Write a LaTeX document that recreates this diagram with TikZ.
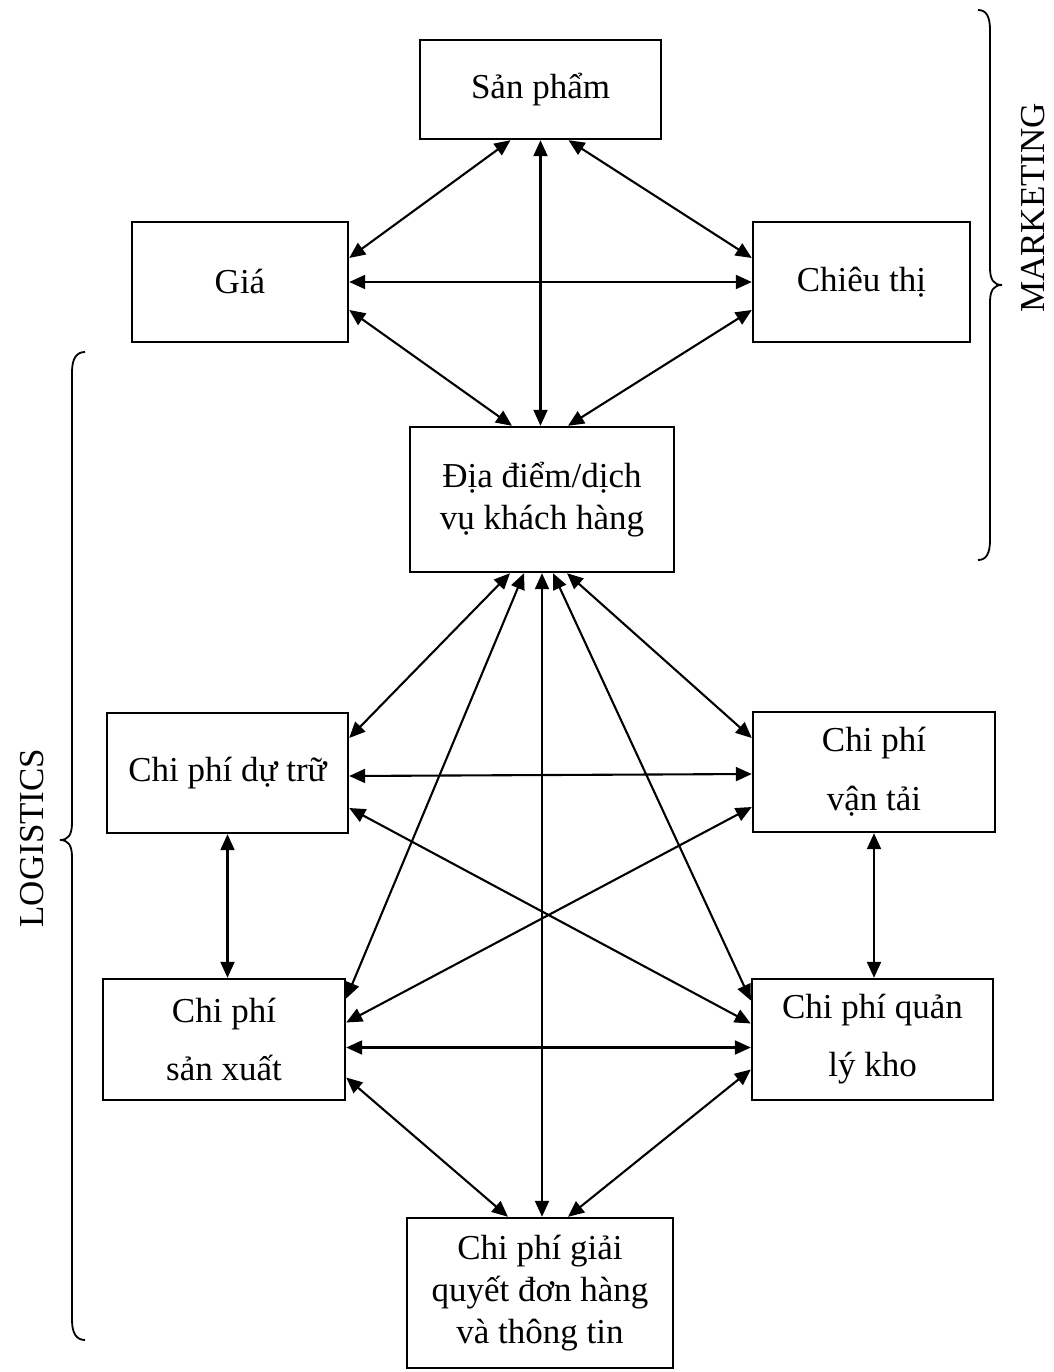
\documentclass[tikz,border=0pt]{standalone}
\usepackage{fontspec}
\setmainfont{Liberation Serif}
\usetikzlibrary{arrows.meta}
\begin{document}
\begin{tikzpicture}[x=1pt,y=-1pt,
  box/.style={draw, line width=2.4pt, inner sep=0pt, align=center,
    font=\fontsize{35}{42}\selectfont},
  link/.style={line width=2.1pt,
    {Triangle[length=16pt,width=14pt]}-{Triangle[length=16pt,width=14pt]}},
  bracepath/.style={line width=1.8pt},
  side/.style={font=\fontsize{35}{42}\selectfont, rotate=90, inner sep=0pt}]
\useasboundingbox (0,0) rectangle (1053,1372);

% marketing mix
\node[box, minimum width=241pt, minimum height=99pt]  (sp) at (540.5,89.5) {Sản phẩm};
\node[box, minimum width=216pt, minimum height=120pt] (gia) at (240,282) {Giá};
\node[box, minimum width=217pt, minimum height=120pt] (ct) at (861.5,282) {Chiêu thị};
\node[box, minimum width=264pt, minimum height=145pt] (dd) at (542,499.5) {Địa điểm/dịch\\vụ khách hàng};

% logistics costs
\node[box, minimum width=241pt, minimum height=120pt] (cpdt) at (227.5,773) {Chi phí dự trữ};
\node[box, minimum width=242pt, minimum height=120pt] (vt) at (874,772) {Chi phí\\[17pt]vận tải};
\node[box, minimum width=242pt, minimum height=121pt] (cpsx) at (224,1039.5) {Chi phí\\[16pt]sản xuất};
\node[box, minimum width=241pt, minimum height=121pt] (qlk) at (872.5,1039.5) {Chi phí quản\\[16pt]lý kho};
\node[box, minimum width=266pt, minimum height=150pt] (gq) at (540,1293) {Chi phí giải\\quyết đơn hàng\\và thông tin};

% links among the marketing elements
\draw[link] ([xshift=-30pt]sp.south) -- ([yshift=24pt]gia.east);
\draw[link] (sp.south) -- (sp.south |- dd.north);
\draw[link] ([xshift=28pt]sp.south) -- ([yshift=24pt]ct.west);
\draw[link] (gia.east) -- (ct.west);
\draw[link] ([yshift=-28pt]gia.east) -- ([xshift=-30pt]dd.north);
\draw[link] ([yshift=-28pt]ct.west) -- ([xshift=26pt]dd.north);

% links from customer service to the cost groups
\draw[link] ([xshift=-32pt]dd.south) -- ([yshift=35pt]cpdt.east);
\draw[link] ([xshift=-18pt]dd.south) -- ([yshift=41pt]cpsx.east);
\draw[link] (dd.south) -- (dd.south |- gq.north);
\draw[link] ([xshift=11pt]dd.south) -- ([yshift=39pt]qlk.west);
\draw[link] ([xshift=25pt]dd.south) -- ([yshift=34pt]vt.west);

% links among the cost groups
\draw[link] ([yshift=-3pt]cpdt.east) -- ([yshift=-2pt]vt.west);
\draw[link] ([yshift=-35pt]cpdt.east) -- ([yshift=16pt]qlk.west);
\draw[link] ([yshift=-35pt]vt.west) -- ([yshift=17pt]cpsx.east);
\draw[link] (cpdt.south) -- (cpdt.south |- cpsx.north);
\draw[link] (vt.south) -- (vt.south |- qlk.north);
\draw[link] ([yshift=-8pt]cpsx.east) -- ([yshift=-8pt]qlk.west);
\draw[link] ([yshift=-38pt]cpsx.east) -- ([xshift=-32pt]gq.north);
\draw[link] ([yshift=-30pt]qlk.west) -- ([xshift=28pt]gq.north);

% group braces
\draw[bracepath] (978,10) .. controls (986,10) and (990,16) .. (990,30) -- (990,268)
  .. controls (990,280) and (994,285) .. (1002,285)
  .. controls (994,285) and (990,290) .. (990,302) -- (990,540)
  .. controls (990,554) and (986,560) .. (978,560);
\node[side] (mkt) at (1033,208) {MARKETING};

\draw[bracepath] (85,352) .. controls (77,352) and (72,358) .. (72,372) -- (72,823)
  .. controls (72,835) and (68,840) .. (60,840)
  .. controls (68,840) and (72,845) .. (72,857) -- (72,1320)
  .. controls (72,1334) and (77,1340) .. (85,1340);
\node[side] (lgs) at (32,838) {LOGISTICS};
\end{tikzpicture}
\end{document}
